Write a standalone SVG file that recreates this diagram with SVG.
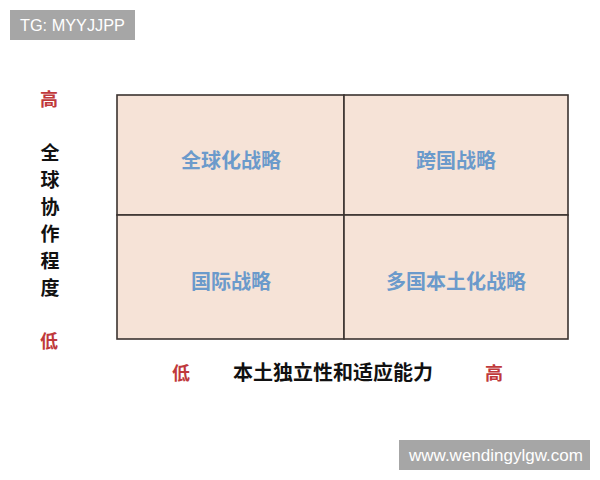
<svg xmlns="http://www.w3.org/2000/svg" width="600" height="480" viewBox="0 0 600 480">
<style>
.cell{fill:#f6e3d7;stroke:#3b3330;stroke-width:1.6}
.q{font-family:"Noto Sans CJK SC","Noto Sans",sans-serif;font-size:20px;font-weight:bold;fill:#6b9acb;text-anchor:middle}
.ax{font-family:"Noto Sans CJK SC","Noto Sans",sans-serif;font-size:20px;font-weight:bold;fill:#111;text-anchor:middle}
.v{font-size:19px}
.r{font-family:"Noto Sans CJK SC","Noto Sans",sans-serif;font-size:18px;font-weight:bold;fill:#c0393b;text-anchor:middle}
.wm{fill:#a6a6a6}
.wt{font-family:"Liberation Sans",Arial,sans-serif;font-size:16.3px;fill:#fff}
</style>
<rect width="600" height="480" fill="#fff"/>
<g id="watermark-top"><rect class="wm" x="10" y="10" width="125" height="30"/><text class="wt" x="20" y="31">TG: MYYJJPP</text></g>
<g id="watermark-bottom"><rect class="wm" x="399" y="440" width="191" height="30"/><text class="wt" x="409" y="461" style="font-size:17px">www.wendingylgw.com</text></g>
<g id="q-global"><rect class="cell" x="117" y="95" width="227" height="120"/><text class="q" x="231" y="168">全球化战略</text></g>
<g id="q-transnational"><rect class="cell" x="344" y="95" width="224" height="120"/><text class="q" x="456" y="168">跨国战略</text></g>
<g id="q-international"><rect class="cell" x="117" y="215" width="227" height="124"/><text class="q" x="231" y="289">国际战略</text></g>
<g id="q-multidomestic"><rect class="cell" x="344" y="215" width="224" height="124"/><text class="q" x="456" y="289">多国本土化战略</text></g>
<g id="y-axis">
<text class="r" x="49" y="106">高</text>
<text class="ax v" x="50" y="160">全</text>
<text class="ax v" x="50" y="187">球</text>
<text class="ax v" x="50" y="214">协</text>
<text class="ax v" x="50" y="241">作</text>
<text class="ax v" x="50" y="268">程</text>
<text class="ax v" x="50" y="295">度</text>
<text class="r" x="49" y="348">低</text>
</g>
<g id="x-axis">
<text class="r" x="181" y="380">低</text>
<text class="ax" x="333" y="380">本土独立性和适应能力</text>
<text class="r" x="494" y="380">高</text>
</g>
<g id="connectors"></g>
</svg>
